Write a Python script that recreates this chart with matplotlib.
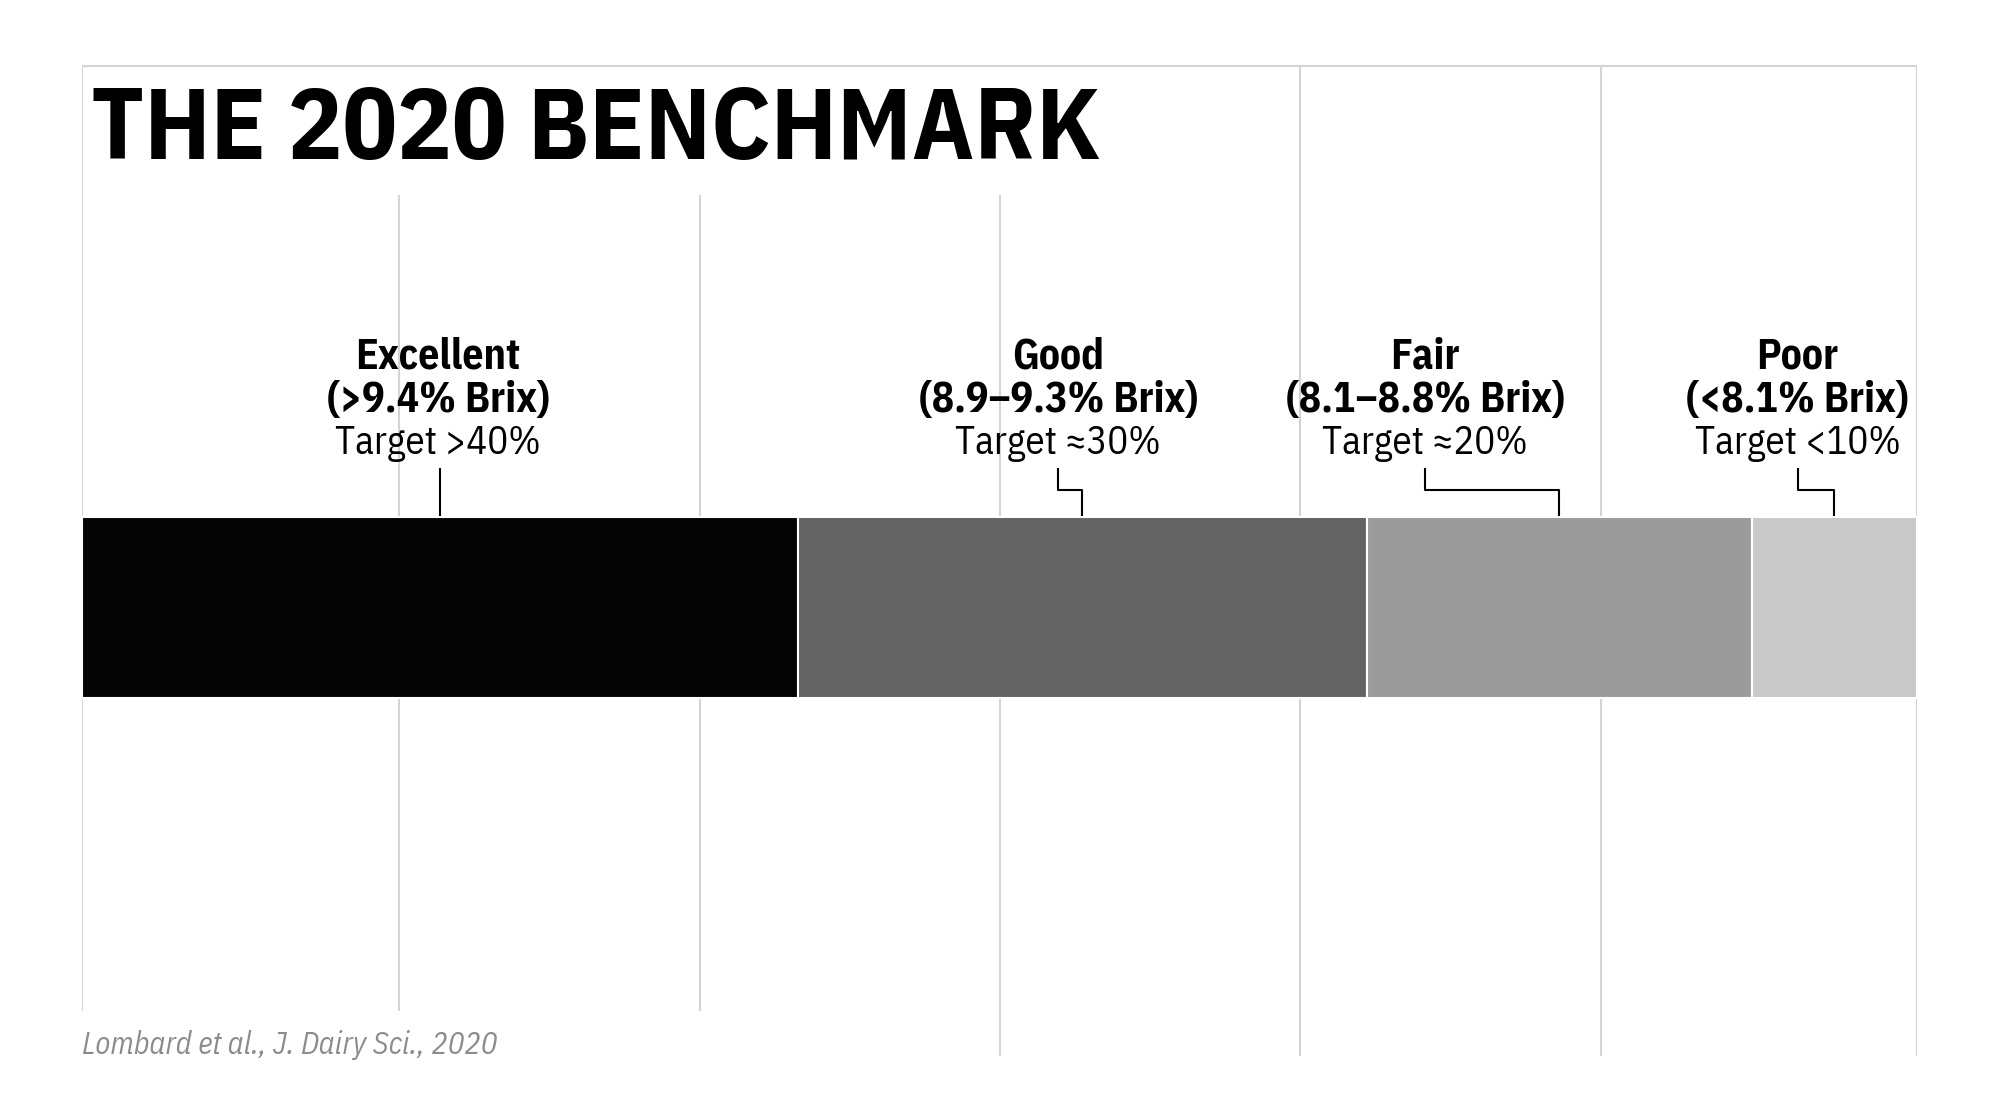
import matplotlib.pyplot as plt
import numpy as np

# data
categories = ['Excellent', 'Good', 'Fair', 'Poor']
ranges = ['(>9.4% Brix)', '(8.9–9.3% Brix)', '(8.1–8.8% Brix)', '(<8.1% Brix)']
targets = ['Target >40%', 'Target ≈30%', 'Target ≈20%', 'Target <10%']
shares = [39, 31, 21, 9]
colors = ['#040404', '#636363', '#9b9b9b', '#c9c9c9']
grid_x = [17.3, 33.7, 50.0, 66.4, 82.8]
source = 'Lombard et al., J. Dairy Sci., 2020'

# layout (label centres in % of bar width)
label_x = [19.4, 53.2, 73.2, 93.5]

W, H = 2000, 1116
x0, x1 = 82, 1917
fig = plt.figure(figsize=(W / 100, H / 100), dpi=100)
ax = fig.add_axes([x0 / W, 0, (x1 - x0) / W, 1])
ax.set_xlim(0, 100)
ax.set_ylim(H, 0)
ax.axis('off')

font = ['IBM Plex Sans Condensed', 'DejaVu Sans']
grid_c = '#d4d4d4'

# frame + grid
ax.hlines(66, 0, 100, color=grid_c, lw=1.5)
ax.vlines(0, 66, 1011, color=grid_c, lw=1.5)
ax.vlines(100, 66, 1056, color=grid_c, lw=1.5)
for g in grid_x:
    top = 66 if g > 60 else 195
    bottom = 1011 if g < 45 else 1056
    ax.vlines(g, top, bottom, color=grid_c, lw=1.5)

# stacked bar
lefts = np.concatenate([[0], np.cumsum(shares)[:-1]])
ax.barh(607.5, shares, left=lefts, height=181, color=colors,
        edgecolor='white', linewidth=1.5, zorder=3)

# labels and leaders
for i, cat in enumerate(categories):
    lx = label_x[i]
    cx = lefts[i] + shares[i] / 2
    ax.text(lx, 357, cat, ha='center', va='center', fontsize=30,
            fontweight='bold', family=font)
    ax.text(lx, 400, ranges[i], ha='center', va='center', fontsize=30,
            fontweight='bold', family=font)
    ax.text(lx, 443, targets[i], ha='center', va='center', fontsize=28,
            family=font)
    if abs(cx - lx) < 0.5:
        ax.plot([cx, cx], [469, 517], color='black', lw=1.5, zorder=2)
    else:
        ax.plot([lx, lx, cx, cx], [469, 490, 490, 517], color='black',
                lw=1.5, zorder=2)

ax.text(0.5, 132, 'THE 2020 BENCHMARK', ha='left', va='center',
        fontsize=73, fontweight='bold', family=font)
ax.text(0, 1045, source, ha='left', va='center', fontsize=22,
        style='italic', color='#8c8c8c', family=font)

fig.savefig('out.png', dpi=100, facecolor='white')
